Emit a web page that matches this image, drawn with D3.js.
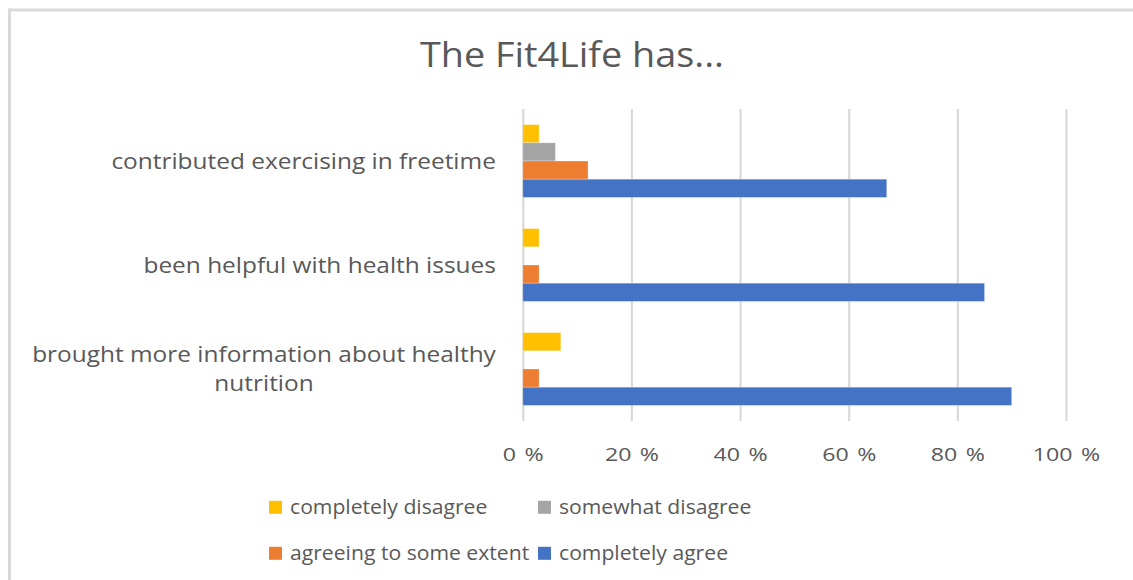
<!DOCTYPE html>
<html>
<head>
<meta charset="utf-8">
<script src="https://cdn.jsdelivr.net/npm/d3@7"></script>
<style>
  html, body { margin: 0; padding: 0; background: #fff; }
  svg { display: block; font-family: "Open Sans", sans-serif; font-variant-ligatures: none; }
</style>
</head>
<body>
<svg id="chart" width="1133" height="580"></svg>
<script>
// Survey statements (top to bottom) and the share of answers per response
const categories = [
  "contributed exercising in freetime",
  "been helpful with health issues",
  "brought more information about healthy nutrition"
];
const seriesNames = [
  "completely disagree",
  "somewhat disagree",
  "agreeing to some extent",
  "completely agree"
];
const completelyDisagree = [0.03, 0.03, 0.07];
const somewhatDisagree   = [0.06, 0.00, 0.00];
const agreeingSome       = [0.12, 0.03, 0.03];
const completelyAgree    = [0.67, 0.85, 0.90];
const seriesColors = ["#FFC000", "#A5A5A5", "#ED7D31", "#4472C4"];
const xTicks = [0, 0.2, 0.4, 0.6, 0.8, 1.0];
const titleText = "The Fit4Life has...";

const seriesValues = [completelyDisagree, somewhatDisagree, agreeingSome, completelyAgree];
const textColor = "#595959";
const gridColor = "#D9D9D9";
const fontFamily = "'Open Sans', sans-serif";

// the chart's typeface is set a little wide; glyphs get a horizontal stretch
const stretch = { title: 1.08, category: 1.1, legend: 1.08, tick: 1.22 };

const svg = d3.select("#chart");

// chart frame edges
svg.append("line").attr("x1", 9.5).attr("x2", 9.5).attr("y1", 8.5).attr("y2", 580)
  .attr("stroke", gridColor).attr("stroke-width", 3);
svg.append("line").attr("x1", 8).attr("x2", 1133).attr("y1", 10).attr("y2", 10)
  .attr("stroke", gridColor).attr("stroke-width", 3);

// title
svg.append("text")
  .attr("transform", `translate(572,66.5) scale(${stretch.title},1)`)
  .attr("text-anchor", "middle")
  .attr("fill", textColor)
  .style("font-size", "35px")
  .text(titleText);

const plot = { left: 522.8, right: 1066, top: 109, bottom: 421 };

const x = d3.scaleLinear().domain([0, 1]).range([plot.left, plot.right]);
const y = d3.scaleBand().domain(categories)
  .range([plot.top, plot.bottom]).paddingInner(0.3).paddingOuter(0.15);
const ySub = d3.scaleBand().domain(seriesNames).range([0, y.bandwidth()]);

// value axis with vertical gridlines
const xAxis = svg.append("g")
  .attr("transform", `translate(0,${plot.bottom})`)
  .call(d3.axisBottom(x).tickValues(xTicks)
    .tickSize(-(plot.bottom - plot.top))
    .tickPadding(27)
    .tickFormat(d => Math.round(d * 100) + " %"));
xAxis.select(".domain").remove();
xAxis.selectAll(".tick line").attr("stroke", gridColor).attr("stroke-width", 2.2);
xAxis.selectAll(".tick text")
  .attr("fill", textColor)
  .attr("transform", `scale(${stretch.tick},1)`)
  .style("font-size", "19px")
  .style("word-spacing", "2px")
  .style("font-family", fontFamily);

// bars
const rows = categories.map((c, i) => ({
  category: c,
  values: seriesNames.map((s, k) => ({ series: s, value: seriesValues[k][i], color: seriesColors[k] }))
}));

const groups = svg.append("g").selectAll("g")
  .data(rows).join("g")
  .attr("transform", d => `translate(0,${y(d.category)})`);

groups.selectAll("rect")
  .data(d => d.values.filter(v => v.value > 0))
  .join("rect")
  .attr("x", x(0))
  .attr("y", d => ySub(d.series))
  .attr("width", d => x(d.value) - x(0))
  .attr("height", ySub.bandwidth())
  .attr("fill", d => d.color)
  .attr("stroke", "#ffffff")
  .attr("stroke-opacity", 0.35)
  .attr("stroke-width", 0.8);

// category axis: labels wrap and are centred within a right-aligned block
const yAxis = svg.append("g")
  .attr("transform", `translate(${plot.left},0)`)
  .call(d3.axisLeft(y).tickSize(0).tickPadding(27));
yAxis.select(".domain").remove();

const labelRight = -27;
const wrapWidth = 425;
const lineHeight = 29;
yAxis.selectAll(".tick text").each(function (d) {
  const t = d3.select(this);
  t.text(null).attr("fill", textColor).style("font-size", "22.2px")
    .style("font-family", fontFamily);
  const words = d.split(" ");
  const lines = [];
  let current = [];
  const probe = t.append("tspan");
  for (const w of words) {
    const trial = current.concat(w).join(" ");
    probe.text(trial);
    if (probe.node().getComputedTextLength() > wrapWidth && current.length) {
      lines.push(current.join(" "));
      current = [w];
    } else {
      current.push(w);
    }
  }
  lines.push(current.join(" "));
  probe.remove();

  // measure lines to centre them inside the block
  const widths = lines.map(l => {
    const tmp = t.append("tspan").text(l);
    const w = tmp.node().getComputedTextLength();
    tmp.remove();
    return w;
  });
  const blockW = d3.max(widths);
  t.attr("text-anchor", "middle").attr("dy", null).attr("x", null)
    .attr("transform", `translate(${labelRight},0) scale(${stretch.category},1)`);
  const offset0 = -(lines.length - 1) / 2 * lineHeight;
  lines.forEach((l, i) => {
    t.append("tspan")
      .attr("x", -blockW / 2)
      .attr("y", offset0 + i * lineHeight)
      .attr("dy", "0.35em")
      .text(l);
  });
});

// legend
const legend = svg.append("g");
const legendCols = [269, 538];
const legendRows = [507.5, 553.5];
const legendItems = legend.selectAll("g")
  .data(seriesNames.map((s, k) => ({ name: s, color: seriesColors[k], col: k % 2, row: Math.floor(k / 2) })))
  .join("g")
  .attr("transform", d => `translate(${legendCols[d.col]},${legendRows[d.row]})`);
legendItems.append("rect")
  .attr("x", 0).attr("y", -6.7).attr("width", 13).attr("height", 13)
  .attr("fill", d => d.color);
legendItems.append("text")
  .attr("transform", `translate(21,0) scale(${stretch.legend},1)`)
  .attr("dy", "0.35em")
  .attr("fill", textColor)
  .style("font-size", "19.6px")
  .text(d => d.name);
</script>
</body>
</html>
